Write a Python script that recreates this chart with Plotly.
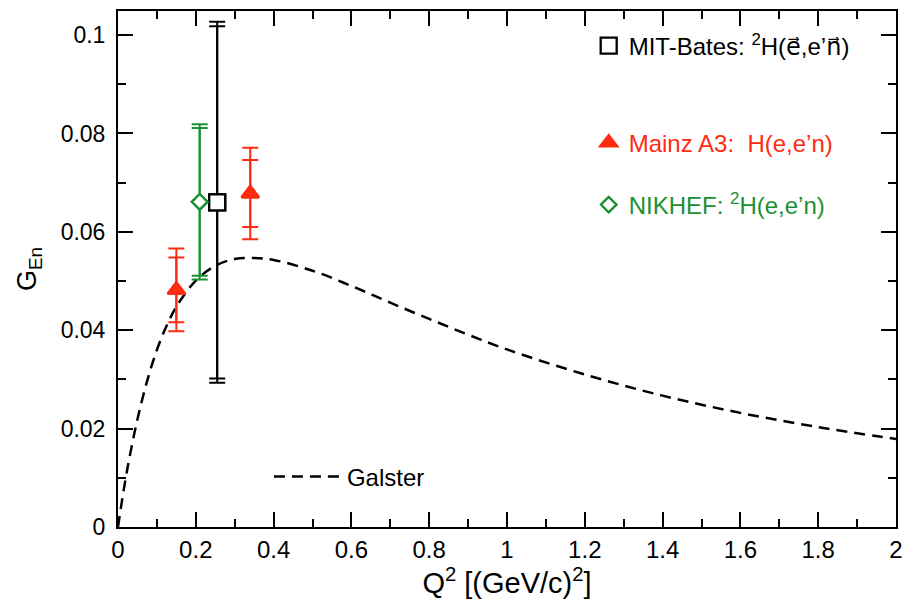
import plotly.graph_objects as go

# ---- data ----
galster_q2 = [0.0, 0.01, 0.02, 0.03, 0.05, 0.075, 0.1, 0.125, 0.15, 0.2, 0.25, 0.3, 0.35,
              0.4, 0.5, 0.6, 0.7, 0.8, 0.9, 1.0, 1.2, 1.4, 1.6, 1.8, 2.0]
galster_gen = [0.0, 0.0052, 0.0100, 0.0143, 0.0219, 0.0297, 0.0360, 0.0409, 0.0448, 0.0501,
               0.0531, 0.0545, 0.0547, 0.0543, 0.0521, 0.0490, 0.0456, 0.0423, 0.0391,
               0.0361, 0.0310, 0.0267, 0.0232, 0.0203, 0.0179]

mit_q2 = [0.255]
mit_gen = [0.0660]
mit_stat = [0.0358]
mit_tot = [0.0367]

mainz_q2 = [0.15, 0.34]
mainz_gen = [0.0482, 0.0678]
mainz_stat = [0.0066, 0.0068]
mainz_tot = [0.0084, 0.0093]

nikhef_q2 = [0.21]
nikhef_gen = [0.0661]
nikhef_stat = [0.0150]
nikhef_tot = [0.0158]

x_tickvals = [0, 0.2, 0.4, 0.6, 0.8, 1.0, 1.2, 1.4, 1.6, 1.8, 2.0]
x_ticktext = ["0", "0.2", "0.4", "0.6", "0.8", "1", "1.2", "1.4", "1.6", "1.8", "2"]
y_tickvals = [0, 0.02, 0.04, 0.06, 0.08, 0.1]
y_ticktext = ["0", "0.02", "0.04", "0.06", "0.08", "0.1"]

BLACK = "#000000"
RED = "#ff2a10"
GREEN = "#1a9033"
FONT = "Liberation Sans, Arial, sans-serif"
ARROWFONT = "DejaVu Sans"

fig = go.Figure()

fig.add_trace(go.Scatter(
    x=galster_q2, y=galster_gen, mode="lines", line=dict(color=BLACK, width=2.5, dash="11px,7px"),
    line_shape="spline", name="Galster", legend="legend4"))


def add_series(x, y, stat, tot, color, symbol, size, fill, name, legend):
    err = dict(type="data", thickness=2, width=8, color=color)
    mk = dict(symbol=symbol, size=size, color=fill, line=dict(color=color, width=2.3))
    fig.add_trace(go.Scatter(x=x, y=y, mode="markers", showlegend=False,
                             error_y=dict(array=tot, **err), marker=mk))
    fig.add_trace(go.Scatter(x=x, y=y, mode="markers", name=name, legend=legend,
                             error_y=dict(array=stat, **err), marker=mk))


vec = "<span style='font-family:%s'>%s\u20d7</span>"
add_series(mit_q2, mit_gen, mit_stat, mit_tot, BLACK, "square", 16, "white",
           "MIT-Bates: <sup>2</sup>H(" + vec % (ARROWFONT, "e") + ",e\u2019" + vec % (ARROWFONT, "n") + ")",
           "legend")
add_series(mainz_q2, mainz_gen, mainz_stat, mainz_tot, RED, "triangle-up", 15, RED,
           "<span style='color:%s'>Mainz A3:  H(e,e\u2019n)</span>" % RED, "legend2")
add_series(nikhef_q2, nikhef_gen, nikhef_stat, nikhef_tot, GREEN, "diamond", 12, "white",
           "<span style='color:%s'>NIKHEF: <sup>2</sup>H(e,e\u2019n)</span>" % GREEN, "legend3")

leg_common = dict(bgcolor="rgba(0,0,0,0)", font=dict(family=FONT, size=24, color=BLACK),
                  xanchor="left", yanchor="middle")

axis_common = dict(showgrid=False, zeroline=False, showline=True, linecolor=BLACK, linewidth=2,
                   mirror="allticks", ticks="inside", ticklen=15, tickwidth=2, tickcolor=BLACK,
                   automargin=False)
minor_common = dict(ticks="inside", ticklen=8, tickwidth=2, tickcolor=BLACK)

fig.update_layout(
    width=907, height=606,
    margin=dict(l=118, r=11, t=11, b=79),
    paper_bgcolor="white", plot_bgcolor="white",
    font=dict(family=FONT, color=BLACK),
    xaxis=dict(range=[0, 2], tickvals=x_tickvals, ticktext=x_ticktext,
               tickfont=dict(family=FONT, size=24, color=BLACK),
               minor=dict(dtick=0.1, **minor_common),
               title=dict(text="Q<sup>2</sup> [(GeV/c)<sup>2</sup>]", font=dict(family=FONT, size=29),
                          standoff=4),
               **axis_common),
    yaxis=dict(range=[0, 0.1049], tickvals=y_tickvals, ticktext=y_ticktext,
               tickfont=dict(family=FONT, size=23, color=BLACK),
               minor=dict(dtick=0.01, **minor_common),
               title=dict(text="G<sub>En</sub>", font=dict(family=FONT, size=27), standoff=16),
               ticklabelstandoff=6,
               **axis_common),
    legend=dict(x=0.605, y=0.932, **leg_common),
    legend2=dict(x=0.605, y=0.744, **leg_common),
    legend3=dict(x=0.605, y=0.624, **leg_common),
    legend4=dict(x=0.194, y=0.097, itemwidth=68, **leg_common),
)

fig.write_html("out.html")
